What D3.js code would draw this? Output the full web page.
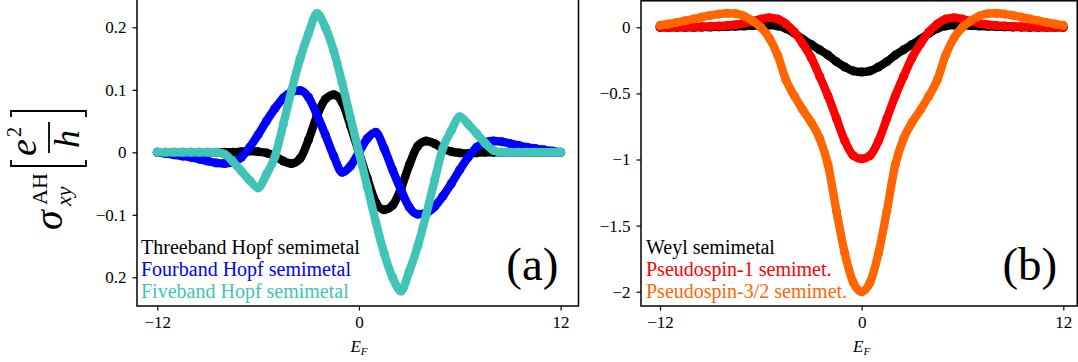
<!DOCTYPE html>
<html>
<head>
<meta charset="utf-8">
<script src="https://cdn.jsdelivr.net/npm/d3@7"></script>
<style>
  body { margin: 0; background: #fff; }
</style>
</head>
<body>
<div id="chart"></div>
<script>
// Fermi energy grid shared by every curve
const energy = [-12, -11.5, -11, -10.5, -10, -9.5, -9, -8.5, -8, -7.5, -7, -6.5, -6, -5.5, -5, -4.5, -4, -3.5, -3, -2.5, -2, -1.5, -1, -0.5,
    0, 0.5, 1, 1.5, 2, 2.5, 3, 3.5, 4, 4.5, 5, 5.5, 6, 6.5, 7, 7.5, 8, 8.5, 9, 9.5, 10, 10.5, 11, 11.5, 12];

// panel (a): Hopf semimetals
const threeband = [0, 0, 0, 0, 0, 0, 0, 0, 0, 0, 0.001, 0.002, 0.001, -0.001, -0.006, -0.014, -0.018, -0.01, 0.02, 0.058, 0.085, 0.092, 0.08, 0.042,
    0, -0.042, -0.08, -0.092, -0.085, -0.058, -0.02, 0.01, 0.018, 0.014, 0.006, 0.001, -0.001, -0.002, -0.001, 0, 0, 0, 0, 0, 0, 0, 0, 0, 0];
const fourband = [0, -0.002, -0.004, -0.006, -0.008, -0.011, -0.014, -0.017, -0.018, -0.016, -0.008, 0.008, 0.028, 0.05, 0.07, 0.087, 0.097, 0.099, 0.088, 0.06, 0.028, -0.006, -0.032, -0.022,
    0, 0.022, 0.032, 0.006, -0.028, -0.06, -0.088, -0.099, -0.097, -0.087, -0.07, -0.05, -0.028, -0.008, 0.008, 0.016, 0.018, 0.017, 0.014, 0.011, 0.008, 0.006, 0.004, 0.002, 0];
const fiveband = [0, 0, 0, 0, 0, 0, 0, 0, -0.003, -0.015, -0.03, -0.045, -0.057, -0.035, -0.007, 0.045, 0.1, 0.15, 0.19, 0.222, 0.2, 0.162, 0.111, 0.055,
    0, -0.055, -0.111, -0.162, -0.2, -0.222, -0.19, -0.15, -0.1, -0.045, 0.007, 0.035, 0.057, 0.045, 0.03, 0.015, 0.003, 0, 0, 0, 0, 0, 0, 0, 0];

// panel (b): Weyl and pseudospin semimetals
const weyl = [0, 0, 0, 0, 0, 0.001, 0.002, 0.003, 0.005, 0.007, 0.01, 0.013, 0.016, 0.017, 0.01, -0.01, -0.045, -0.09, -0.13, -0.17, -0.21, -0.26, -0.3, -0.33,
    -0.338, -0.33, -0.3, -0.26, -0.21, -0.17, -0.13, -0.09, -0.045, -0.01, 0.01, 0.017, 0.016, 0.013, 0.01, 0.007, 0.005, 0.003, 0.002, 0.001, 0, 0, 0, 0, 0];
const pseudospin1 = [0, 0, 0.001, 0.002, 0.003, 0.005, 0.007, 0.01, 0.014, 0.02, 0.03, 0.045, 0.062, 0.072, 0.062, 0.025, -0.035, -0.125, -0.23, -0.37, -0.52, -0.69, -0.86, -0.97,
    -0.995, -0.97, -0.86, -0.69, -0.52, -0.37, -0.23, -0.125, -0.035, 0.025, 0.062, 0.072, 0.062, 0.045, 0.03, 0.02, 0.014, 0.01, 0.007, 0.005, 0.003, 0.002, 0.001, 0, 0];
const pseudospin32 = [0.015, 0.025, 0.037, 0.05, 0.063, 0.077, 0.09, 0.1, 0.106, 0.103, 0.085, 0.05, 0, -0.08, -0.21, -0.4, -0.52, -0.625, -0.72, -0.84, -1.04, -1.39, -1.71, -1.93,
    -2.0, -1.93, -1.71, -1.39, -1.04, -0.84, -0.72, -0.625, -0.52, -0.4, -0.21, -0.08, 0, 0.05, 0.085, 0.103, 0.106, 0.1, 0.09, 0.077, 0.063, 0.05, 0.037, 0.025, 0.015];

const xTicks = [-12, 0, 12];
const xTickLabels = ["\u221212", "0", "12"];
const yTicksA = [0.2, 0.1, 0, -0.1, -0.2];
const yTickLabelsA = ["0.2", "0.1", "0", "\u22120.1", "0.2"];
const yTicksB = [0, -0.5, -1, -1.5, -2];
const yTickLabelsB = ["0", "\u22120.5", "\u22121", "\u22121.5", "\u22122"];

const seriesA = [
    { name: "Threeband Hopf semimetal", values: threeband, color: "#000000" },
    { name: "Fourband Hopf semimetal", values: fourband, color: "#0000ff" },
    { name: "Fiveband Hopf semimetal", values: fiveband, color: "#40c4b8" }
];
const seriesB = [
    { name: "Weyl semimetal", values: weyl, color: "#000000" },
    { name: "Pseudospin-1 semimet.", values: pseudospin1, color: "#ff0000" },
    { name: "Pseudospin-3/2 semimet.", values: pseudospin32, color: "#ff6600" }
];

const width = 1078;
const height = 362;
const serif = "'Liberation Serif', 'DejaVu Serif', 'Noto Serif', 'Times New Roman', serif";

const svg = d3.select("#chart")
    .append("svg")
    .attr("width", width)
    .attr("height", height)
    .attr("font-family", serif)
    .style("display", "block");

svg.append("rect").attr("width", width).attr("height", height).attr("fill", "#fff");

function drawPanel(p) {
    const x = d3.scaleLinear().domain([-12, 12]).range(p.xRange);
    const y = d3.scaleLinear().domain(p.yDomain).range(p.yRange);
    const g = svg.append("g");

    const line = d3.line()
        .x((d, i) => x(energy[i]))
        .y(d => y(d))
        .curve(d3.curveMonotoneX);

    p.series.forEach(s => {
        g.append("path")
            .datum(s.values)
            .attr("d", line)
            .attr("fill", "none")
            .attr("stroke", s.color)
            .attr("stroke-width", 8.4)
            .attr("stroke-linejoin", "round")
            .attr("stroke-linecap", "round");
        g.selectAll(null)
            .data(s.values)
            .enter()
            .append("circle")
            .attr("cx", (d, i) => x(energy[i]))
            .attr("cy", d => y(d))
            .attr("r", 4.5)
            .attr("fill", s.color);
    });

    g.append("rect")
        .attr("x", p.box[0])
        .attr("y", p.box[1])
        .attr("width", p.box[2] - p.box[0])
        .attr("height", p.box[3] - p.box[1])
        .attr("fill", "none")
        .attr("stroke", "#000")
        .attr("stroke-width", 1.5);

    const xAxis = g.append("g")
        .attr("transform", `translate(0,${p.box[3]})`)
        .call(d3.axisBottom(x).tickValues(xTicks).tickFormat((d, i) => xTickLabels[i]).tickSize(4.5).tickPadding(5.5));
    const yAxis = g.append("g")
        .attr("transform", `translate(${p.box[0]},0)`)
        .call(d3.axisLeft(y).tickValues(p.yTicks).tickFormat((d, i) => p.yLabels[i]).tickSize(4.5).tickPadding(6));

    [xAxis, yAxis].forEach(a => {
        a.attr("font-family", serif).attr("font-size", 17);
        a.select(".domain").remove();
        a.selectAll(".tick line").attr("stroke-width", 1.2);
    });

    p.series.forEach((s, i) => {
        g.append("text")
            .attr("x", p.legendX)
            .attr("y", 254 + i * 22)
            .attr("fill", s.color)
            .attr("font-size", 20)
            .text(s.name);
    });

    g.append("text")
        .attr("x", p.box[2] - 20)
        .attr("y", 280)
        .attr("text-anchor", "end")
        .attr("font-size", 47)
        .text(p.tag);

    const xl = g.append("text")
        .attr("x", x(0))
        .attr("y", 352)
        .attr("text-anchor", "middle")
        .attr("font-style", "italic")
        .attr("font-size", 17);
    xl.append("tspan").text("E");
    xl.append("tspan").attr("dy", 3).attr("font-size", 11).text("F");
}

drawPanel({
    series: seriesA,
    xRange: [157.3, 560.6],
    yDomain: [-0.2, 0.2],
    yRange: [277.3, 27.3],
    box: [137, -1, 578.5, 306],
    yTicks: yTicksA,
    yLabels: yTickLabelsA,
    legendX: 141,
    tag: "(a)"
});

drawPanel({
    series: seriesB,
    xRange: [660, 1063.3],
    yDomain: [-2, 0],
    yRange: [291.7, 27.3],
    box: [641, 0.8, 1077.2, 306],
    yTicks: yTicksB,
    yLabels: yTickLabelsB,
    legendX: 646,
    tag: "(b)"
});

// shared y label: sigma_xy^AH [e^2/h], rotated
const ylab = svg.append("g")
    .attr("transform", "translate(62,230) rotate(-90)");
ylab.append("text").attr("x", 0).attr("y", 0)
    .attr("font-style", "italic").attr("font-size", 40).text("σ");
ylab.append("text").attr("x", 25).attr("y", -15)
    .attr("font-size", 22).text("AH");
ylab.append("text").attr("x", 24).attr("y", 9)
    .attr("font-style", "italic").attr("font-size", 22).text("xy");
ylab.append("path").attr("d", "M70,-51H64V24H70")
    .attr("fill", "none").attr("stroke", "#000").attr("stroke-width", 1.8);
ylab.append("path").attr("d", "M113,-51H119V24H113")
    .attr("fill", "none").attr("stroke", "#000").attr("stroke-width", 1.8);
ylab.append("text").attr("x", 74).attr("y", -26)
    .attr("font-style", "italic").attr("font-size", 38).text("e");
ylab.append("text").attr("x", 93).attr("y", -41)
    .attr("font-size", 20).text("2");
ylab.append("line").attr("x1", 77).attr("x2", 108).attr("y1", -13).attr("y2", -13)
    .attr("stroke", "#000").attr("stroke-width", 1.8);
ylab.append("text").attr("x", 82).attr("y", 17)
    .attr("font-style", "italic").attr("font-size", 36).text("h");
</script>
</body>
</html>
